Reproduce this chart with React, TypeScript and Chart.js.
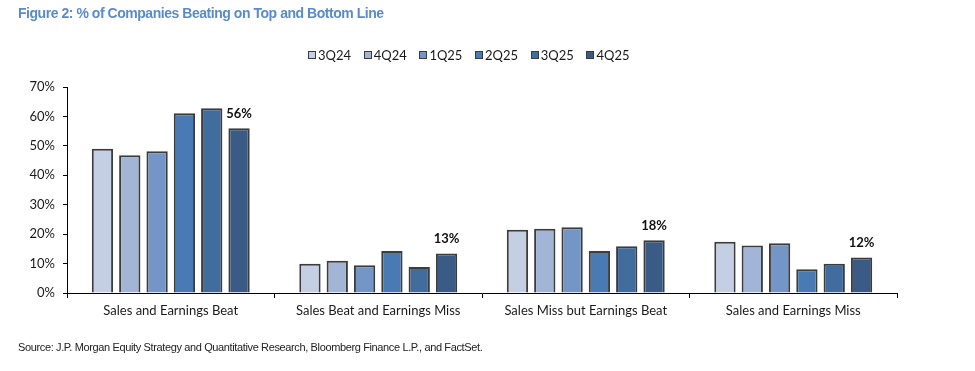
import React, { useEffect, useRef } from "react";
import { Chart, registerables } from "chart.js";

Chart.register(...registerables);

const categories = [
  "Sales and Earnings Beat",
  "Sales Beat and Earnings Miss",
  "Sales Miss but Earnings Beat",
  "Sales and Earnings Miss",
];
const seriesNames = ["3Q24", "4Q24", "1Q25", "2Q25", "3Q25", "4Q25"];
const q3_24 = [49, 9.9, 21.5, 17.4];
const q4_24 = [46.8, 11, 21.8, 16.1];
const q1_25 = [48.2, 9.4, 22.3, 16.9];
const q2_25 = [61.1, 14.3, 14.3, 8.1];
const q3_25 = [62.8, 8.8, 15.9, 9.9];
const q4_25 = [56, 13.4, 17.9, 12.1];
const seriesValues = [q3_24, q4_24, q1_25, q2_25, q3_25, q4_25];
const labelTexts = ["56%", "13%", "18%", "12%"];
const yTicks = [0, 10, 20, 30, 40, 50, 60, 70];
const colors = ["#c5cfe3", "#a3b5d6", "#7496c6", "#4a7ab3", "#416c9e", "#3a5b86"];

const titleText = "Figure 2: % of Companies Beating on Top and Bottom Line";
const sourceText =
  "Source: J.P. Morgan Equity Strategy and Quantitative Research, Bloomberg Finance L.P., and FactSet.";

const labelPlugin = {
  id: "lastLabels",
  afterDatasetsDraw(chart: any) {
    const ctx = chart.ctx;
    const idx = chart.data.datasets.length - 1;
    const meta = chart.getDatasetMeta(idx);
    ctx.save();
    ctx.font = "bold 13px Lato";
    ctx.fillStyle = "#111";
    ctx.textAlign = "center";
    ctx.textBaseline = "bottom";
    meta.data.forEach((bar: any, i: number) => {
      ctx.fillText(labelTexts[i], bar.x, bar.y - 8);
    });
    ctx.restore();
  },
};

export default function App() {
  const ref = useRef<HTMLCanvasElement | null>(null);
  useEffect(() => {
    if (!ref.current) return;
    const chart = new Chart(ref.current, {
      type: "bar",
      data: {
        labels: categories,
        datasets: seriesNames.map((n, i) => ({
          label: n,
          data: seriesValues[i],
          backgroundColor: colors[i],
          borderColor: "#3c3c3c",
          borderWidth: 2,
          categoryPercentage: 0.79,
          barPercentage: 0.78,
        })),
      },
      options: {
        responsive: false,
        animation: false,
        layout: { padding: { top: 87, right: 78, left: 0, bottom: 0 } },
        plugins: {
          legend: { display: false },
          tooltip: { enabled: false },
          title: { display: false },
        },
        scales: {
          x: {
            afterFit: (s: any) => {
              s.height = 78;
            },
            grid: {
              display: true,
              drawOnChartArea: false,
              drawTicks: true,
              tickLength: 5,
              color: "#000",
              offset: true,
            },
            border: { display: true, color: "#000", width: 1 },
            ticks: {
              color: "#1a1a1a",
              font: { family: "Lato", size: 13 },
              padding: 5,
              maxRotation: 0,
            },
          },
          y: {
            min: 0,
            max: 70,
            afterFit: (s: any) => {
              s.width = 67;
            },
            afterBuildTicks: (s: any) => {
              s.ticks = yTicks.map((v) => ({ value: v }));
            },
            grid: {
              display: true,
              drawOnChartArea: false,
              drawTicks: true,
              tickLength: 4,
              color: "#000",
            },
            border: { display: true, color: "#000", width: 1 },
            ticks: {
              color: "#1a1a1a",
              font: { family: "Lato", size: 13 },
              padding: 8,
              callback: (v: any) => v + "%",
            },
          },
        },
      },
      plugins: [labelPlugin],
    });
    return () => chart.destroy();
  }, []);

  return (
    <div
      style={{
        position: "fixed",
        left: 0,
        top: 0,
        width: 975,
        height: 371,
        background: "#fff",
        overflow: "hidden",
      }}
    >
      <canvas ref={ref} width={975} height={371} style={{ position: "absolute", left: 0, top: 0 }} />
      <div
        style={{
          position: "absolute",
          left: 18,
          top: 5,
          font: "bold 14px 'Liberation Sans', Arial, sans-serif",
          color: "#5b8bc7",
          whiteSpace: "nowrap",
          letterSpacing: "-0.46px",
        }}
      >
        {titleText}
      </div>
      <div
        style={{
          position: "absolute",
          left: 308,
          top: 47,
          display: "flex",
          font: "13px Lato",
          color: "#1a1a1a",
          whiteSpace: "nowrap",
        }}
      >
        {seriesNames.map((n, i) => (
          <div key={n} style={{ display: "flex", alignItems: "center", width: 55.7 }}>
            <span
              style={{
                display: "inline-block",
                width: 6,
                height: 6,
                background: colors[i],
                border: "1.2px solid #3a3a3a",
                marginRight: 2,
              }}
            />
            <span>{n}</span>
          </div>
        ))}
      </div>
      <div
        style={{
          position: "absolute",
          left: 18,
          top: 341,
          font: "11px 'Liberation Sans', Arial, sans-serif",
          color: "#222",
          whiteSpace: "nowrap",
          letterSpacing: "-0.37px",
        }}
      >
        {sourceText}
      </div>
    </div>
  );
}
